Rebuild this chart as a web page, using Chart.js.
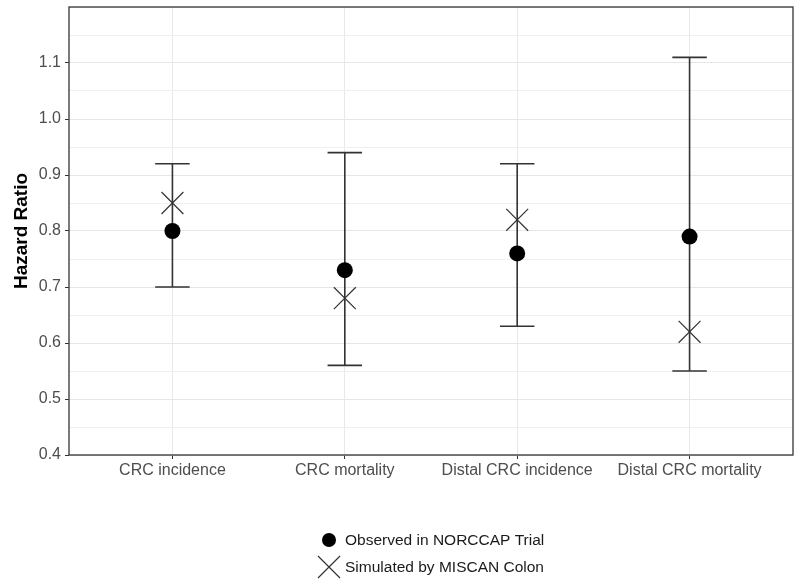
<!DOCTYPE html>
<html>
<head>
<meta charset="utf-8">
<script src="https://cdn.jsdelivr.net/npm/chart.js@4/dist/chart.umd.min.js"></script>
<style>
html,body{margin:0;padding:0;background:#fff;}
#wrap{width:800px;height:584px;position:relative;}
</style>
</head>
<body>
<div id="wrap"><canvas id="c" width="800" height="584"></canvas></div>
<script>
const categories = ["CRC incidence", "CRC mortality", "Distal CRC incidence", "Distal CRC mortality"];
const observed = [0.80, 0.73, 0.76, 0.79];
const ciLower = [0.70, 0.56, 0.63, 0.55];
const ciUpper = [0.92, 0.94, 0.92, 1.11];
const simulated = [0.85, 0.68, 0.82, 0.62];
const yTicks = [0.4, 0.5, 0.6, 0.7, 0.8, 0.9, 1.0, 1.1];
const seriesNames = ["Observed in NORCCAP Trial", "Simulated by MISCAN Colon"];

const FONT = "'Liberation Sans', Arial, sans-serif";

const errorBars = {
  id: 'errorBars',
  beforeDatasetsDraw(chart) {
    const {ctx, scales: {x, y}} = chart;
    ctx.save();
    ctx.strokeStyle = '#333';
    ctx.lineWidth = 1.6;
    categories.forEach((c, i) => {
      const px = x.getPixelForValue(i + 1);
      const half = x.getPixelForValue(i + 1.1) - px;
      const yl = y.getPixelForValue(ciLower[i]);
      const yu = y.getPixelForValue(ciUpper[i]);
      ctx.beginPath();
      ctx.moveTo(px, yl); ctx.lineTo(px, yu);
      ctx.moveTo(px - half, yl); ctx.lineTo(px + half, yl);
      ctx.moveTo(px - half, yu); ctx.lineTo(px + half, yu);
      ctx.stroke();
    });
    ctx.restore();
  }
};

const frame = {
  id: 'frame',
  afterDraw(chart) {
    const {ctx, chartArea: a} = chart;
    ctx.save();
    ctx.strokeStyle = '#333';
    ctx.lineWidth = 1.3;
    ctx.strokeRect(a.left, a.top, a.right - a.left, a.bottom - a.top);
    // legend
    const lx = 329, ly1 = 540, ly2 = 567, tx = 345;
    ctx.fillStyle = '#000';
    ctx.beginPath(); ctx.arc(lx, ly1, 7, 0, Math.PI * 2); ctx.fill();
    ctx.strokeStyle = '#333'; ctx.lineWidth = 1.2;
    ctx.beginPath();
    ctx.moveTo(lx - 11, ly2 - 11); ctx.lineTo(lx + 11, ly2 + 11);
    ctx.moveTo(lx - 11, ly2 + 11); ctx.lineTo(lx + 11, ly2 - 11);
    ctx.stroke();
    ctx.fillStyle = '#1a1a1a';
    ctx.font = '15.5px ' + FONT;
    ctx.textBaseline = 'middle';
    ctx.textAlign = 'left';
    ctx.fillText(seriesNames[0], tx, ly1 + 1);
    ctx.fillText(seriesNames[1], tx, ly2 + 1);
    ctx.restore();
  }
};

const isMajor = v => yTicks.some(t => Math.abs(t - v) < 1e-6);
const noPad = s => { s.paddingTop = 0; s.paddingBottom = 0; s.paddingLeft = 0; s.paddingRight = 0; };

new Chart(document.getElementById('c'), {
  type: 'scatter',
  data: {
    datasets: [
      {
        label: seriesNames[1],
        data: simulated.map((v, i) => ({x: i + 1, y: v})),
        pointStyle: 'crossRot',
        pointRadius: 15.5,
        borderColor: '#333',
        backgroundColor: '#333',
        borderWidth: 1.2
      },
      {
        label: seriesNames[0],
        data: observed.map((v, i) => ({x: i + 1, y: v})),
        pointStyle: 'circle',
        pointRadius: 8,
        borderWidth: 0,
        backgroundColor: '#000',
        borderColor: '#000'
      }
    ]
  },
  options: {
    responsive: false,
    animation: false,
    devicePixelRatio: 1,
    layout: {autoPadding: false, padding: {left: 0, right: 7, top: 7, bottom: 0}},
    plugins: {legend: {display: false}, tooltip: {enabled: false}},
    scales: {
      x: {
        type: 'linear',
        min: 0.4, max: 4.6,
        afterBuildTicks: s => { s.ticks = categories.map((c, i) => ({value: i + 1})); },
        afterFit: s => { s.height = 129; noPad(s); },
        ticks: {
          callback: v => categories[Math.round(v) - 1] || '',
          color: '#4d4d4d',
          font: {family: FONT, size: 16},
          padding: 2,
          maxRotation: 0, autoSkip: false
        },
        grid: {color: '#e8e8e8', lineWidth: 1, tickLength: 4, tickColor: '#333', drawTicks: true},
        border: {display: false}
      },
      y: {
        min: 0.4, max: 1.2,
        afterBuildTicks: s => {
          const t = [];
          for (let k = 0; k <= 16; k++) t.push({value: Math.round((0.4 + k * 0.05) * 100) / 100});
          s.ticks = t;
        },
        afterFit: s => { s.width = 69; noPad(s); },
        ticks: {
          callback: v => isMajor(v) ? v.toFixed(1) : '',
          color: '#4d4d4d',
          font: {family: FONT, size: 16},
          padding: 4, autoSkip: false
        },
        grid: {
          color: ctx => isMajor(ctx.tick.value) ? '#e6e6e6' : '#f0f0f0',
          lineWidth: 1,
          tickLength: 4,
          tickColor: ctx => isMajor(ctx.tick.value) ? '#333' : 'rgba(0,0,0,0)'
        },
        border: {display: false},
        title: {
          display: true,
          text: 'Hazard Ratio',
          color: '#000',
          font: {family: FONT, size: 19, weight: 'bold'},
          padding: {top: 10, bottom: 4}
        }
      }
    }
  },
  plugins: [errorBars, frame]
});
</script>
</body>
</html>
